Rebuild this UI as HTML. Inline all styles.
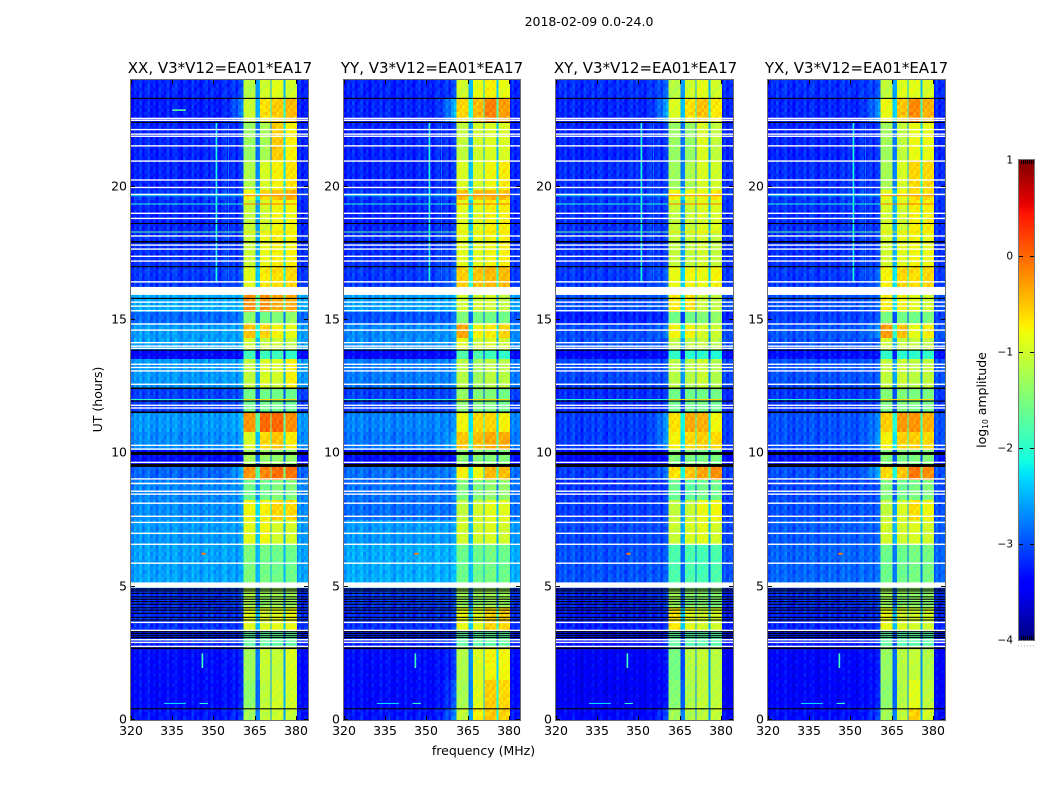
<!DOCTYPE html>
<html>
<head>
<meta charset="utf-8">
<title>2018-02-09 amplitude waterfall</title>
<style>
html,body{margin:0;padding:0;background:#fff;}
svg{display:block;}
text{font-family:"DejaVu Sans","Liberation Sans",sans-serif;fill:#000;}
</style>
</head>
<body>
<svg id="chart" xmlns="http://www.w3.org/2000/svg" width="1050" height="800" viewBox="0 0 1050 800">
<rect x="0" y="0" width="1050" height="800" fill="#fff"/>
<text x="589" y="26" font-size="12.5" text-anchor="middle">2018-02-09 0.0-24.0</text>
<text x="483.5" y="755" font-size="12.5" text-anchor="middle">frequency (MHz)</text>
<text x="0" y="0" font-size="12.5" text-anchor="middle" transform="translate(102,399.5) rotate(-90)">UT (hours)</text>
<text x="0" y="0" font-size="12.5" text-anchor="middle" transform="translate(986,400) rotate(-90)">log<tspan font-size="7.5" dy="2">10</tspan><tspan dy="-2"> amplitude</tspan></text>
</svg>
<script>
// ---- time segments: upper edge of each segment in UT hours, final entry is the bottom edge
const segmentEdges = [24,23.32,22.42,21.0,19.87,19.5,18.26,17.02,16.24,15.3,14.89,14.32,13.87,13.54,12.45,11.51,10.8,10.12,9.6,9.0,8.25,7.5,6.56,4.95,4.24,3.37,2.74,1.5,0.45,0];

// ---- XX log10 amplitude per time segment
const xxBackground = [-3.1,-3.15,-3.1,-3.1,-3.0,-3.1,-3.05,-3.0,-2.55,-2.9,-2.65,-2.6,-3.4,-2.65,-3.1,-2.65,-2.7,-3.35,-2.9,-2.75,-2.7,-2.65,-2.6,-3.05,-3.05,-3.1,-3.25,-3.25,-3.2];
const xxShoulder = [-2.9,-2.6,-3.0,-3.0,-2.9,-3.0,-3.0,-2.85,-2.5,-2.8,-2.6,-2.55,-3.3,-2.6,-3.0,-2.5,-2.6,-3.3,-2.5,-2.65,-2.65,-2.6,-2.6,-2.9,-3.0,-3.0,-3.1,-3.1,-3.0];
const xxBandA = [-1.15,-1.05,-1.35,-1.2,-0.8,-1.1,-1.05,-0.9,-0.2,-1.45,-0.5,-1.0,-1.9,-1.1,-1.6,-0.25,-0.95,-1.3,-0.25,-1.6,-0.8,-0.9,-1.5,-1.2,-0.9,-1.7,-1.3,-1.4,-1.3];
const xxBandB = [-1.0,-0.65,-1.25,-0.95,-0.6,-1.0,-0.85,-0.7,-0.2,-1.6,-0.6,-1.05,-1.9,-0.95,-1.6,0.0,-0.6,-1.35,-0.15,-1.6,-0.75,-0.8,-1.55,-1.35,-0.95,-1.7,-1.05,-1.1,-1.1];
const xxBandC = [-0.9,-0.55,-0.55,-0.75,-0.5,-0.8,-0.75,-0.65,-0.35,-1.5,-0.8,-1.05,-1.9,-1.0,-1.6,0.0,-0.5,-1.4,-0.05,-1.5,-0.6,-1.0,-1.6,-1.3,-0.9,-1.7,-1.1,-1.0,-1.05];
const xxBandD = [-1.0,-0.45,-0.75,-0.65,-0.4,-0.8,-0.75,-0.6,-0.35,-1.4,-0.9,-1.1,-2.0,-0.75,-1.65,-0.2,-0.7,-1.4,-0.05,-1.5,-0.6,-1.0,-1.6,-1.3,-0.85,-1.7,-0.95,-1.0,-1.1];

// ---- YY
const yyBackground = [-3.1,-3.1,-3.1,-3.1,-3.0,-3.1,-3.05,-3.0,-2.6,-3.0,-2.75,-2.7,-3.4,-2.8,-3.1,-2.75,-2.8,-3.35,-2.85,-2.85,-2.85,-2.65,-2.55,-3.0,-3.05,-3.1,-3.25,-3.25,-3.2];
const yyShoulder = [-2.9,-2.3,-3.0,-3.0,-2.9,-3.0,-2.9,-2.7,-2.5,-2.9,-2.6,-2.6,-3.3,-2.7,-3.0,-2.7,-2.5,-3.3,-2.7,-2.8,-2.8,-2.6,-2.5,-2.9,-2.95,-3.0,-3.0,-2.8,-2.6];
const yyBandA = [-1.0,-0.6,-1.1,-0.95,-0.5,-0.9,-0.9,-0.55,-1.0,-1.5,-0.35,-0.85,-1.8,-1.15,-1.4,-0.8,-0.5,-1.45,-0.75,-1.5,-1.1,-1.0,-1.6,-1.3,-0.85,-1.7,-1.2,-1.25,-1.1];
const yyBandB = [-0.85,-0.45,-1.0,-0.95,-0.45,-0.9,-0.9,-0.5,-1.0,-1.6,-0.8,-1.0,-1.8,-1.3,-1.5,-0.6,-0.45,-1.45,-0.8,-1.5,-1.0,-1.0,-1.6,-1.35,-0.9,-1.7,-0.95,-0.9,-0.75];
const yyBandC = [-0.75,-0.15,-0.95,-0.8,-0.45,-0.75,-0.8,-0.45,-1.0,-1.6,-0.75,-0.95,-1.9,-1.15,-1.5,-0.6,-0.35,-1.5,-0.45,-1.4,-0.9,-0.95,-1.55,-1.3,-0.6,-1.7,-0.8,-0.55,-0.55];
const yyBandD = [-0.85,-0.3,-0.95,-0.7,-0.5,-0.75,-0.75,-0.45,-1.1,-1.6,-0.6,-1.0,-2.0,-1.15,-1.6,-0.75,-0.35,-1.5,-0.45,-1.4,-0.9,-1.0,-1.6,-1.3,-0.6,-1.7,-0.8,-0.6,-0.6];

// ---- XY
const xyBackground = [-3.05,-3.1,-3.1,-3.05,-3.0,-3.05,-3.05,-3.0,-3.0,-3.25,-3.05,-3.0,-3.4,-3.05,-3.2,-3.1,-3.1,-3.4,-3.1,-3.15,-3.1,-3.05,-3.0,-3.1,-3.15,-3.2,-3.35,-3.35,-3.3];
const xyShoulder = [-2.75,-2.4,-3.0,-3.0,-2.9,-3.0,-3.0,-2.8,-2.9,-3.15,-2.8,-2.95,-3.35,-3.0,-3.15,-2.6,-2.6,-3.35,-2.8,-3.1,-3.05,-3.0,-2.95,-2.95,-3.05,-3.1,-3.2,-3.2,-2.9];
const xyBandA = [-1.15,-0.95,-1.35,-1.3,-0.8,-1.1,-1.1,-0.85,-0.7,-1.6,-0.8,-1.1,-2.0,-1.15,-1.6,-0.65,-0.75,-1.5,-0.65,-1.65,-1.1,-1.05,-1.8,-1.3,-0.7,-1.7,-1.55,-1.45,-1.3];
const xyBandB = [-1.0,-0.65,-1.35,-1.2,-0.85,-1.05,-1.1,-0.8,-0.65,-1.6,-0.8,-1.1,-2.0,-1.15,-1.6,-0.35,-0.6,-1.5,-0.5,-1.7,-1.05,-0.95,-1.8,-1.45,-0.9,-1.75,-1.15,-1.2,-1.2];
const xyBandC = [-0.9,-0.5,-0.95,-0.95,-0.85,-0.95,-1.0,-0.85,-1.05,-1.5,-1.0,-1.1,-2.0,-1.05,-1.6,-0.4,-0.55,-1.55,-0.35,-1.6,-0.85,-0.9,-1.85,-1.45,-1.0,-1.75,-1.1,-1.1,-1.15];
const xyBandD = [-1.0,-0.7,-1.1,-1.0,-0.7,-0.95,-1.1,-0.75,-1.1,-1.4,-1.05,-1.15,-2.1,-1.2,-1.6,-0.8,-0.6,-1.55,-0.2,-1.6,-0.8,-1.0,-1.8,-1.45,-1.0,-1.75,-1.15,-1.1,-1.1];

// ---- YX
const yxBackground = [-3.05,-3.1,-3.1,-3.05,-3.0,-3.05,-3.05,-3.0,-3.0,-3.1,-3.0,-3.0,-3.35,-3.0,-3.15,-3.0,-3.0,-3.3,-3.0,-3.05,-3.0,-2.95,-2.9,-3.05,-3.1,-3.15,-3.3,-3.3,-3.25];
const yxShoulder = [-2.85,-2.5,-3.0,-3.0,-2.9,-3.0,-2.95,-2.75,-2.9,-3.0,-2.7,-2.95,-3.3,-2.95,-3.05,-2.7,-2.6,-3.25,-2.5,-3.0,-2.95,-2.9,-2.85,-2.9,-3.0,-3.05,-3.15,-3.1,-2.9];
const yxBandA = [-1.1,-0.85,-1.3,-1.25,-0.9,-1.0,-1.0,-0.75,-0.7,-1.55,-0.3,-1.0,-2.0,-1.1,-1.5,-0.55,-0.75,-1.5,-0.6,-1.5,-1.1,-1.0,-1.6,-1.3,-0.85,-1.7,-1.35,-1.4,-1.3];
const yxBandB = [-0.9,-0.5,-1.1,-0.95,-0.8,-1.0,-0.9,-0.6,-0.75,-1.6,-0.5,-1.05,-2.0,-1.05,-1.5,-0.25,-0.55,-1.5,-0.5,-1.6,-0.95,-1.0,-1.6,-1.4,-0.95,-1.75,-1.15,-1.15,-1.1];
const yxBandC = [-0.9,-0.2,-0.85,-0.6,-0.65,-0.75,-0.8,-0.65,-0.9,-1.6,-0.9,-1.1,-2.0,-1.15,-1.55,-0.25,-0.55,-1.55,-0.1,-1.55,-0.65,-0.95,-1.55,-1.4,-1.0,-1.75,-1.1,-0.9,-0.6];
const yxBandD = [-0.95,-0.4,-0.85,-0.6,-0.65,-0.75,-0.85,-0.6,-1.0,-1.55,-0.75,-1.1,-2.0,-1.1,-1.55,-0.4,-0.6,-1.5,-0.2,-1.5,-0.8,-1.0,-1.55,-1.4,-1.0,-1.75,-1.2,-1.1,-1.0];

// ---- observed fine structure: per-channel and per-scan offsets (log10 amplitude)
const channelOffsets = [-0.10,0.06,-0.04,0.10,-0.08,0.02,0.12,-0.06,0.04,-0.12,0.08,0.00,-0.05,0.11,-0.09,0.05,0.09,-0.03,-0.11,0.07,0.01,-0.07,0.12,-0.02,0.06,-0.10,0.03,0.09,-0.06,0.10,-0.04,0.02,-0.09,0.07,0.11,-0.05,0.00,0.08,-0.12,0.04,0.06,-0.03,0.10,-0.08,0.05,-0.06,0.09,0.02,-0.10,0.07,-0.04,0.03,0.08,-0.07,0.11,-0.02,0.05,-0.09,0.06,0.01,-0.11,0.10,-0.05,0.04,0.00];
const scanOffsets = [0.05,-0.12,0.18,-0.04,0.10,-0.20,0.02,0.14,-0.08,0.22,-0.15,0.06,-0.02,0.16,-0.18,0.09,-0.06,0.12,-0.10,0.20,-0.03,0.07,-0.16,0.13,0.00,-0.09,0.17,-0.13,0.04,0.11,-0.19,0.08,-0.05,0.15,-0.11,0.03,0.19];

// ---- flagged scans (UT hours): blanked in white, zero in black
const whiteScanHours = [22.56,22.49,22.14,21.97,21.89,21.53,20.96,20.25,19.97,19.71,19.0,18.81,18.15,17.81,17.66,17.39,17.21,16.43,15.67,15.52,15.35,14.85,14.62,14.15,14.02,13.94,13.34,13.22,13.09,12.59,11.8,11.7,10.3,10.16,9.66,9.04,8.58,8.47,8.13,7.64,7.41,7.0,6.59,5.88,3.66,3.36,3.01,2.91,2.76];
const whiteBlockTops = [16.24,8.9,5.16];
const whiteBlockBottoms = [15.94,8.84,4.96];
const blackScanHours = [23.31,22.41,18.62,17.0,15.81,13.87,11.96,4.91,4.84,4.75,4.62,4.53,4.44,4.34,4.21,4.12,4.0,3.85,3.75,3.31,3.24,3.16,3.09,0.42];
const blackBlockTops = [17.96,12.47,11.57,10.05,9.6,2.72];
const blackBlockBottoms = [17.9,12.41,11.51,9.94,9.49,2.66];

// ---- interference seen across the band
const brightScanHours = [19.66,19.35,18.3,12.02];
const brightScanBackground = [-2.3,-2.0,-1.7,-2.0];
const brightScanSignal = [-0.15,-0.05,-0.6,-0.6];
const rfiPanel = [-1,-1,-1,-1,0,-1,-1];
const rfiFreqStart = [350.8,355.4,345.7,345.6,335,332,345];
const rfiFreqEnd = [351.4,355.7,346.3,347.2,340,340,348];
const rfiHourTop = [22.4,22.4,2.5,6.27,22.9,0.64,0.64];
const rfiHourBottom = [16.4,16.4,1.95,6.2,22.84,0.6,0.6];
const rfiValue = [-2.1,-2.7,-1.9,-0.1,-1.7,-2.3,-2.0];

// ---- axes
const xTickValues = [320,335,350,365,380];
const yTickValues = [0,5,10,15,20];
const colorbarTicks = [1,0,-1,-2,-3,-4];
const colorbarTickLabels = ['1','0','\u22121','\u22122','\u22123','\u22124'];

const panelNames = ['xx','yy','xy','yx'];
const panelTitles = ['XX, V3*V12=EA01*EA17','YY, V3*V12=EA01*EA17','XY, V3*V12=EA01*EA17','YX, V3*V12=EA01*EA17'];
const panelLefts = [131,344,556,768];
const panelRights = [308,520,733,945];
const panelTitleCentres = [220,432,645.5,856.5];
const panelBackground = [xxBackground,yyBackground,xyBackground,yxBackground];
const panelShoulder = [xxShoulder,yyShoulder,xyShoulder,yxShoulder];
const panelBandA = [xxBandA,yyBandA,xyBandA,yxBandA];
const panelBandB = [xxBandB,yyBandB,xyBandB,yxBandB];
const panelBandC = [xxBandC,yyBandC,xyBandC,yxBandC];
const panelBandD = [xxBandD,yyBandD,xyBandD,yxBandD];

const svg = document.getElementById('chart');
const NS = 'http://www.w3.org/2000/svg';
const plotTop = 80, plotBottom = 720, hourMax = 24, freqMin = 320, freqMax = 384.5;
const MHZ_PX = 2.745;
const BAND_EDGES = [360.9,365.4,366.1,370.8,371.2,375.6,376.2,380.4];
const QUIET_BIAS = -0.12;

function yOf(hour){ return plotBottom - (hour / hourMax) * (plotBottom - plotTop); }
function xOf(left, freq){ return left + (freq - freqMin) * MHZ_PX; }

function lerp(stops, t){
  for (let i = 1; i < stops.length; i++) {
    if (t <= stops[i][0]) {
      const a = stops[i-1], b = stops[i];
      return a[1] + (b[1]-a[1]) * (t-a[0]) / (b[0]-a[0]);
    }
  }
  return stops[stops.length-1][1];
}
const JET_R = [[0,0],[.35,0],[.66,1],[.89,1],[1,.5]];
const JET_G = [[0,0],[.125,0],[.375,1],[.64,1],[.91,0],[1,0]];
const JET_B = [[0,.5],[.11,1],[.34,1],[.65,0],[1,0]];
function colorOf(logAmp){
  const t = Math.max(0, Math.min(1, (logAmp + 4) / 5));
  const ch = s => Math.round(255 * lerp(s, t));
  return 'rgb(' + ch(JET_R) + ',' + ch(JET_G) + ',' + ch(JET_B) + ')';
}

function makeText(parent, x, y, size, anchor, str){
  const t = document.createElementNS(NS, 'text');
  t.setAttribute('x', x);
  t.setAttribute('y', y);
  t.setAttribute('font-size', size);
  t.setAttribute('text-anchor', anchor);
  t.textContent = str;
  parent.appendChild(t);
  return t;
}
function makeRect(parent, x, y, w, h, fill){
  const r = document.createElementNS(NS, 'rect');
  r.setAttribute('x', x.toFixed(2));
  r.setAttribute('y', y.toFixed(2));
  r.setAttribute('width', w.toFixed(2));
  r.setAttribute('height', h.toFixed(2));
  r.setAttribute('fill', fill);
  parent.appendChild(r);
  return r;
}
function makeLine(parent, x1, y1, x2, y2, stroke){
  const l = document.createElementNS(NS, 'line');
  l.setAttribute('x1', x1);
  l.setAttribute('y1', y1);
  l.setAttribute('x2', x2);
  l.setAttribute('y2', y2);
  l.setAttribute('stroke', stroke);
  l.setAttribute('stroke-width', 1);
  parent.appendChild(l);
  return l;
}

// channel edges: 1 MHz grid, split at the receiver sub-band edges
const channelEdges = [];
for (let f = freqMin; f <= 384; f += 1) channelEdges.push(f);
channelEdges.push(freqMax);
BAND_EDGES.forEach(e => {
  if (channelEdges.every(c => Math.abs(c - e) > 0.12)) channelEdges.push(e);
});
channelEdges.sort((a,b) => a-b);

function cellValue(p, seg, freq, scan){
  const bg = panelBackground[p][seg], sh = panelShoulder[p][seg];
  const a = panelBandA[p][seg], b = panelBandB[p][seg], c = panelBandC[p][seg], d = panelBandD[p][seg];
  const ch = channelOffsets[Math.floor(freq - freqMin) % channelOffsets.length];
  const ripple = scanOffsets[scan % scanOffsets.length];
  const gap = (u, v) => Math.max(bg + 0.1, Math.min(u, v) - 1.5) + ch * 0.5 + ripple * 0.2;
  if (freq >= 360.9 && freq < 365.4) return a + ch * 0.3 + ripple * 0.6;
  if (freq >= 365.4 && freq < 366.1) return gap(a, b);
  if (freq >= 366.1 && freq < 370.8) return b + ch * 0.3 + ripple * 0.6;
  if (freq >= 370.8 && freq < 371.2) return gap(b, c);
  if (freq >= 371.2 && freq < 375.6) return c + ch * 0.3 + ripple * 0.6;
  if (freq >= 375.6 && freq < 376.2) return gap(c, d);
  if (freq >= 376.2 && freq < 380.4) return d + ch * 0.3 + ripple * 0.6;
  const base = (freq >= 354 && freq < 360.9) ? bg + (sh - bg) * (freq - 354) / 6.9 : bg;
  const quiet = (seg < 8 || seg >= 23) && bg < -2.9;
  return base + (quiet ? QUIET_BIAS : 0) + ch * 1.2 + ripple * 0.5;
}

panelNames.forEach((name, p) => {
  const left = panelLefts[p], right = panelRights[p];
  const g = document.createElementNS(NS, 'g');
  
  
  svg.appendChild(g);

  const title = makeText(g, panelTitleCentres[p], 73, 15, 'middle', panelTitles[p]);
  
  

  const cells = document.createElementNS(NS, 'g');
  cells.setAttribute('shape-rendering', 'crispEdges');
  
  
  g.appendChild(cells);

  let scan = 0;
  for (let s = 0; s < segmentEdges.length - 1; s++) {
    const top = segmentEdges[s], bottom = segmentEdges[s+1];
    const n = Math.max(1, Math.round((top - bottom) / 0.13));
    for (let r = 0; r < n; r++) {
      const hTop = top - (top - bottom) * r / n;
      const hBot = top - (top - bottom) * (r + 1) / n;
      for (let c = 0; c < channelEdges.length - 1; c++) {
        const f0 = channelEdges[c], f1 = channelEdges[c+1];
        const x0 = xOf(left, f0), x1 = Math.min(right, xOf(left, f1));
        if (x1 <= x0) continue;
        const cell = makeRect(cells, x0, yOf(hTop), x1 - x0, yOf(hBot) - yOf(hTop), colorOf(cellValue(p, s, f0 + 0.01, scan + c % 5)));
        
        
      }
      scan++;
    }
  }

  // interference: narrow features
  rfiFreqStart.forEach((f0, i) => {
    if (rfiPanel[i] !== -1 && rfiPanel[i] !== p) return;
    const x0 = xOf(left, f0), x1 = xOf(left, rfiFreqEnd[i]);
    const y0 = yOf(rfiHourTop[i]), y1 = yOf(rfiHourBottom[i]);
    const rfi = makeRect(g, x0, y0, x1 - x0, Math.max(1, y1 - y0), colorOf(rfiValue[i]));
    
    
  });

  // interference: bright scans spanning the whole band
  brightScanHours.forEach((h, i) => {
    const y = yOf(h);
    const bgLine = makeRect(g, left, y - 0.5, xOf(left, 360.9) - left, 1, colorOf(brightScanBackground[i]));
    
    
    const sigLine = makeRect(g, xOf(left, 360.9), y - 0.5, xOf(left, 380.4) - xOf(left, 360.9), 1, colorOf(brightScanSignal[i]));
    
    
  });

  // flagged scans
  whiteScanHours.forEach(h => {
    const flag = makeRect(g, left, yOf(h) - 0.7, right - left, 1.4, '#fff');
    
    
  });
  whiteBlockTops.forEach((h, i) => {
    const flag = makeRect(g, left, yOf(h), right - left, yOf(whiteBlockBottoms[i]) - yOf(h), '#fff');
    
    
  });
  blackScanHours.forEach(h => {
    const flag = makeRect(g, left, yOf(h) - 0.55, right - left, 1.1, '#000');
    
    
  });
  blackBlockTops.forEach((h, i) => {
    const flag = makeRect(g, left, yOf(h), right - left, yOf(blackBlockBottoms[i]) - yOf(h), '#000');
    
    
  });

  // frame
  const frame = document.createElementNS(NS, 'rect');
  frame.setAttribute('x', left - 0.5);
  frame.setAttribute('y', plotTop - 0.5);
  frame.setAttribute('width', right - left + 1);
  frame.setAttribute('height', plotBottom - plotTop + 1);
  frame.setAttribute('fill', 'none');
  frame.setAttribute('stroke', '#6e6e6e');
  frame.setAttribute('stroke-width', 1);
  
  
  g.appendChild(frame);

  // x axis
  xTickValues.forEach(v => {
    const x = Math.round(xOf(left, v)) + 0.5;
    const lo = makeLine(g, x, plotBottom, x, plotBottom - 4, '#000');
    
    
    const hi = makeLine(g, x, plotTop, x, plotTop + 4, '#000');
    
    
    const label = makeText(g, x - 0.5, 735, 12.5, 'middle', String(v));
    
    
  });

  // y axis
  yTickValues.forEach(v => {
    const y = Math.round(yOf(v)) - 0.5;
    const lo = makeLine(g, left, y, left + 4, y, '#000');
    
    
    const hi = makeLine(g, right, y, right - 4, y, '#000');
    
    
    const label = makeText(g, left - 4, y + 4, 12.5, 'end', String(v));
    
    
  });
});

// ---- colorbar
(function(){
  const cbLeft = 1019, cbRight = 1034, cbTop = 160, cbBottom = 640;
  const cbY = v => cbBottom - (v + 4) / 5 * (cbBottom - cbTop);
  const g = document.createElementNS(NS, 'g');
  
  
  svg.appendChild(g);
  const steps = 240;
  for (let i = 0; i < steps; i++) {
    const v = -4 + 5 * (i + 0.5) / steps;
    const seg = makeRect(g, cbLeft, cbY(-4 + 5 * (i + 1) / steps), cbRight - cbLeft, (cbBottom - cbTop) / steps + 0.5, colorOf(v));
    
    
  }
  const frame = document.createElementNS(NS, 'rect');
  frame.setAttribute('x', cbLeft - 0.5);
  frame.setAttribute('y', cbTop - 0.5);
  frame.setAttribute('width', cbRight - cbLeft + 1);
  frame.setAttribute('height', cbBottom - cbTop + 1);
  frame.setAttribute('fill', 'none');
  frame.setAttribute('stroke', '#777');
  
  
  g.appendChild(frame);
  colorbarTicks.forEach((v, i) => {
    const y = Math.round(cbY(v)) + 0.5;
    if (v !== 1 && v !== -4) {
      const a = makeLine(g, cbLeft, y, cbLeft + 4, y, '#000');
      
      
      const b = makeLine(g, cbRight, y, cbRight - 4, y, '#000');
      
      
    }
    const label = makeText(g, 1013, y + 3, 10.5, 'end', colorbarTickLabels[i]);
    
    
  });
  [1021,1023,1025,1027,1029,1031,1033].forEach(x => {
    const top = makeLine(g, x + 0.5, cbTop, x + 0.5, cbTop + 4, '#000');
    
    
    const bot = makeLine(g, x + 0.5, cbBottom, x + 0.5, cbBottom - 4, '#000');
    
    
  });
  [1018,1021,1024,1027,1030,1033].forEach(x => {
    const dot = makeRect(g, x, 645.5, 1, 1, '#aaa');
    
    
  });
})();
</script>
</body>
</html>
